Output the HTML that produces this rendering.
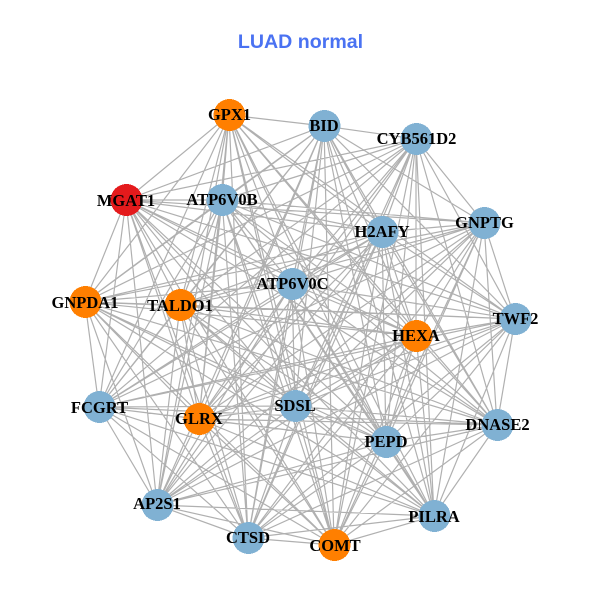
<!DOCTYPE html>
<html><head><meta charset="utf-8"><style>
html,body{margin:0;padding:0;background:#fff}
svg{display:block}
.n{font:bold 16.5px "Liberation Serif",serif;fill:#000;text-anchor:middle}
</style></head><body>
<svg width="600" height="600" viewBox="0 0 600 600" xmlns="http://www.w3.org/2000/svg">
<rect width="600" height="600" fill="#fff"/>
<text x="300.5" y="48" text-anchor="middle" style="font:bold 19.6px 'Liberation Sans',sans-serif;fill:#4a72f2">LUAD normal</text>
<path fill="none" stroke="#b0b0b0" stroke-width="1.2" d="
M229 115L324 126M229 115L515 319M229 115L416 336M229 115L497 425M229 115L386 442M229 115L434 516M229 115L334 545M229 115L248 538M229 115L157 505M229 115L199 419M229 115L99 407M229 115L85 302M229 115L180 305M229 115L126 200M229 115L222 200M229 115L292 284M229 115L382 232M229 115L295 406
M324 126L416 139M324 126L484 223M324 126L515 319M324 126L416 336M324 126L497 425M324 126L386 442M324 126L434 516M324 126L334 545M324 126L248 538M324 126L157 505M324 126L199 419M324 126L99 407M324 126L85 302M324 126L180 305M324 126L126 200M324 126L222 200M324 126L292 284M324 126L382 232M324 126L295 406
M416 139L484 223M416 139L515 319M416 139L416 336M416 139L497 425M416 139L386 442M416 139L434 516M416 139L334 545M416 139L248 538M416 139L157 505M416 139L199 419M416 139L99 407M416 139L85 302M416 139L180 305M416 139L126 200M416 139L222 200M416 139L292 284M416 139L382 232M416 139L295 406
M484 223L515 319M484 223L416 336M484 223L497 425M484 223L386 442M484 223L434 516M484 223L334 545M484 223L248 538M484 223L157 505M484 223L199 419M484 223L99 407M484 223L85 302M484 223L180 305M484 223L126 200M484 223L222 200M484 223L292 284M484 223L382 232M484 223L295 406
M515 319L416 336M515 319L497 425M515 319L386 442M515 319L434 516M515 319L334 545M515 319L248 538M515 319L157 505M515 319L199 419M515 319L99 407M515 319L85 302M515 319L180 305M515 319L126 200M515 319L222 200M515 319L292 284M515 319L382 232M515 319L295 406
M416 336L497 425M416 336L386 442M416 336L434 516M416 336L334 545M416 336L248 538M416 336L157 505M416 336L199 419M416 336L99 407M416 336L85 302M416 336L180 305M416 336L126 200M416 336L222 200M416 336L292 284M416 336L382 232M416 336L295 406
M497 425L386 442M497 425L434 516M497 425L334 545M497 425L248 538M497 425L157 505M497 425L199 419M497 425L99 407M497 425L85 302M497 425L180 305M497 425L126 200M497 425L222 200M497 425L292 284M497 425L382 232M497 425L295 406
M386 442L434 516M386 442L334 545M386 442L248 538M386 442L157 505M386 442L199 419M386 442L99 407M386 442L85 302M386 442L180 305M386 442L126 200M386 442L222 200M386 442L292 284M386 442L382 232M386 442L295 406
M434 516L334 545M434 516L248 538M434 516L157 505M434 516L199 419M434 516L99 407M434 516L85 302M434 516L180 305M434 516L126 200M434 516L222 200M434 516L292 284M434 516L382 232M434 516L295 406
M334 545L248 538M334 545L157 505M334 545L199 419M334 545L99 407M334 545L85 302M334 545L180 305M334 545L126 200M334 545L222 200M334 545L292 284M334 545L382 232M334 545L295 406
M248 538L157 505M248 538L199 419M248 538L99 407M248 538L85 302M248 538L180 305M248 538L126 200M248 538L222 200M248 538L292 284M248 538L382 232M248 538L295 406
M157 505L199 419M157 505L99 407M157 505L85 302M157 505L180 305M157 505L126 200M157 505L222 200M157 505L292 284M157 505L382 232M157 505L295 406
M199 419L99 407M199 419L85 302M199 419L180 305M199 419L126 200M199 419L222 200M199 419L292 284M199 419L382 232M199 419L295 406
M99 407L85 302M99 407L180 305M99 407L126 200M99 407L222 200M99 407L292 284M99 407L382 232M99 407L295 406
M85 302L180 305M85 302L126 200M85 302L222 200M85 302L292 284M85 302L382 232M85 302L295 406
M180 305L126 200M180 305L222 200M180 305L292 284M180 305L382 232M180 305L295 406
M126 200L222 200M126 200L292 284M126 200L382 232M126 200L295 406
M222 200L292 284M222 200L382 232M222 200L295 406
M292 284L382 232M292 284L295 406
M382 232L295 406"/>
<g shape-rendering="crispEdges" transform="translate(0.5,0)">
<g fill="#80b1d3">
<circle cx="324" cy="126" r="16"/><circle cx="416" cy="139" r="16"/><circle cx="484" cy="223" r="16"/><circle cx="515" cy="319" r="16"/><circle cx="497" cy="425" r="16"/><circle cx="386" cy="442" r="16"/><circle cx="434" cy="516" r="16"/><circle cx="248" cy="538" r="16"/><circle cx="157" cy="505" r="16"/><circle cx="99" cy="407" r="16"/><circle cx="222" cy="200" r="16"/><circle cx="292" cy="284" r="16"/><circle cx="382" cy="232" r="16"/><circle cx="295" cy="406" r="16"/>
</g>
<g fill="#ff7f00">
<circle cx="229" cy="115" r="16"/><circle cx="416" cy="336" r="16"/><circle cx="334" cy="545" r="16"/><circle cx="199" cy="419" r="16"/><circle cx="85" cy="302" r="16"/><circle cx="180" cy="305" r="16"/>
</g>
<circle cx="126" cy="200" r="16" fill="#e41a1c"/>
</g>
<g class="t">
<text class="n" x="229.5" y="120">GPX1</text>
<text class="n" x="324" y="131">BID</text>
<text class="n" x="416.5" y="144">CYB561D2</text>
<text class="n" x="484.5" y="228">GNPTG</text>
<text class="n" x="515.5" y="324">TWF2</text>
<text class="n" x="416" y="341">HEXA</text>
<text class="n" x="497.5" y="430">DNASE2</text>
<text class="n" x="386" y="447">PEPD</text>
<text class="n" x="434" y="522">PILRA</text>
<text class="n" x="335" y="551">COMT</text>
<text class="n" x="248" y="543">CTSD</text>
<text class="n" x="157" y="509">AP2S1</text>
<text class="n" x="199" y="424">GLRX</text>
<text class="n" x="99.5" y="413">FCGRT</text>
<text class="n" x="85" y="308">GNPDA1</text>
<text class="n" x="180" y="311">TALDO1</text>
<text class="n" x="126" y="206">MGAT1</text>
<text class="n" x="222" y="205">ATP6V0B</text>
<text class="n" x="292.5" y="289">ATP6V0C</text>
<text class="n" x="382" y="237">H2AFY</text>
<text class="n" x="295" y="411">SDSL</text>
</g>
</svg>
</body></html>
